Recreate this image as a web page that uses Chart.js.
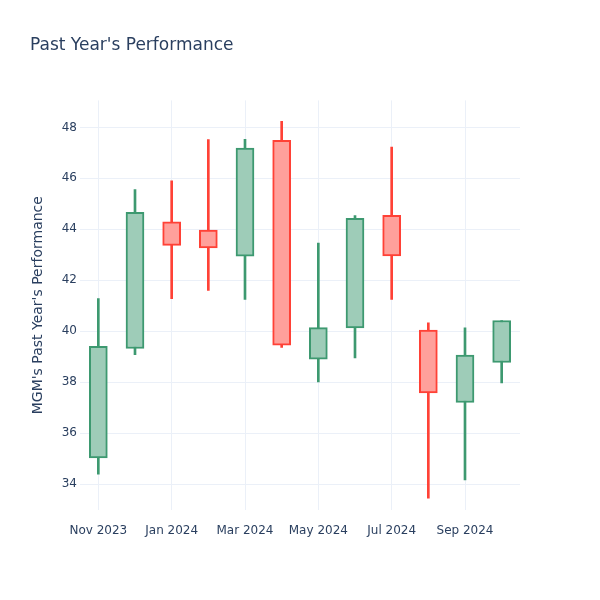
<!DOCTYPE html>
<html>
<head>
<meta charset="utf-8">
<script src="https://cdn.jsdelivr.net/npm/chart.js@4"></script>
<style>
  html, body { margin: 0; padding: 0; background: #fff; }
  #wrap { width: 600px; height: 600px; }
</style>
</head>
<body>
<div id="wrap"><canvas id="chart" width="600" height="600"></canvas></div>
<script>
// MGM monthly candles
var months = ['Nov 2023', 'Dec 2023', 'Jan 2024', 'Feb 2024', 'Mar 2024', 'Apr 2024',
              'May 2024', 'Jun 2024', 'Jul 2024', 'Aug 2024', 'Sep 2024', 'Oct 2024']
var openPrice  = [35.02, 39.32, 44.29, 43.97, 42.94, 47.49, 38.90, 40.13, 44.55, 40.04, 37.20, 38.77]
var highPrice  = [41.28, 45.56, 45.90, 47.52, 47.53, 48.24, 43.46, 44.54, 47.23, 40.33, 40.13, 40.42]
var lowPrice   = [34.39, 39.08, 41.28, 41.60, 41.25, 39.36, 38.01, 38.95, 41.25, 33.44, 34.16, 37.97]
var closePrice = [39.41, 44.67, 43.37, 43.27, 47.19, 39.45, 40.14, 44.43, 42.95, 37.58, 39.06, 40.42]
var yTicks = [34, 36, 38, 40, 42, 44, 46, 48]

// fills are the plotly half-alpha colours flattened on white, so the wick behind stays hidden
var UP_LINE = '#3D9970', UP_FILL = '#9eccb8'
var DOWN_LINE = '#FF4136', DOWN_FILL = '#ffa09b'
var INK = '#2a3f5f', GRID = '#ebf0f8'
var FONT = "'DejaVu Sans', 'Open Sans', sans-serif"

function isUp(i){
    return closePrice[i] >= openPrice[i]
}

var bodies = [], wicks = []
for (var i = 0; i < months.length; i++) {
    bodies.push([openPrice[i], closePrice[i]])
    wicks.push([lowPrice[i], highPrice[i]])
}

function lineColor(ctx){ return isUp(ctx.dataIndex) ? UP_LINE : DOWN_LINE }
function fillColor(ctx){ return isUp(ctx.dataIndex) ? UP_FILL : DOWN_FILL }

new Chart(document.getElementById('chart').getContext('2d'), {
    type: 'bar',
    data: {
        labels: months,
        datasets: [
            {
                // candle bodies, drawn on top
                data: bodies,
                grouped: false,
                order: 1,
                barThickness: 18,
                borderWidth: 2,
                borderSkipped: false,
                borderColor: lineColor,
                backgroundColor: fillColor
            },
            {
                // high-low wicks
                data: wicks,
                grouped: false,
                order: 2,
                barThickness: 2,
                borderWidth: 0,
                backgroundColor: lineColor
            }
        ]
    },
    options: {
        responsive: false,
        animation: false,
        layout: { padding: { left: 30, right: 80, top: 0, bottom: 60 } },
        plugins: {
            legend: { display: false },
            tooltip: { enabled: false },
            title: {
                display: true,
                text: "Past Year's Performance",
                align: 'start',
                color: INK,
                font: { family: FONT, size: 17, weight: 'normal' },
                padding: { top: 35, bottom: 45 }
            }
        },
        scales: {
            x: {
                offset: true,
                border: { display: false },
                grid: {
                    offset: false,
                    drawTicks: false,
                    color: function(ctx){ return ctx.index % 2 === 0 ? GRID : 'rgba(0,0,0,0)' }
                },
                ticks: {
                    autoSkip: false,
                    maxRotation: 0,
                    padding: 14,
                    color: INK,
                    font: { family: FONT, size: 12 },
                    callback: function(v, i){ return i % 2 === 0 ? months[i] : '' }
                },
                afterFit: function(scale){ scale.height = 30 }
            },
            y: {
                min: 32.98,
                max: 49.06,
                border: { display: false },
                grid: { color: GRID, drawTicks: false },
                afterBuildTicks: function(scale){
                    scale.ticks = yTicks.map(function(v){ return { value: v } })
                },
                ticks: {
                    padding: 3,
                    color: INK,
                    font: { family: FONT, size: 12 }
                },
                title: {
                    display: true,
                    text: "MGM's Past Year's Performance",
                    color: INK,
                    font: { family: FONT, size: 14 },
                    padding: 0
                },
                afterFit: function(scale){ scale.width = 50 }
            }
        }
    }
})
</script>
</body>
</html>
